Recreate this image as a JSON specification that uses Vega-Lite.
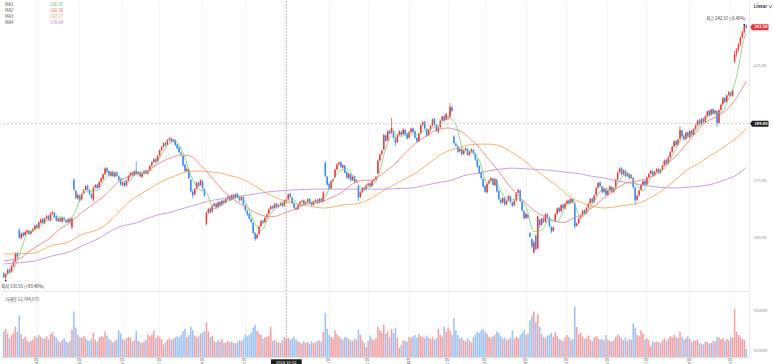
{
"$schema":"https://vega.github.io/schema/vega-lite/v6.json",
"padding":0,
"spacing":0,
"background":"white",
"config":{"view":{"stroke":null},"font":"Noto Sans CJK KR"},
"resolve":{"scale":{"x":"shared"}},
"datasets":{
"k":[
{"d":"2024-03-06","o":134.6,"h":135.3,"l":132.6,"c":133.0,"v":38},
{"d":"2024-03-07","o":132.9,"h":134.7,"l":131.55,"c":134.2,"v":42},
{"d":"2024-03-08","o":134.5,"h":136.8,"l":134.0,"c":136.0,"v":35},
{"d":"2024-03-11","o":136.3,"h":136.9,"l":134.6,"c":135.2,"v":28},
{"d":"2024-03-12","o":135.5,"h":138.4,"l":135.1,"c":137.8,"v":33},
{"d":"2024-03-13","o":137.9,"h":140.2,"l":137.2,"c":139.5,"v":36},
{"d":"2024-03-14","o":139.8,"h":143.8,"l":139.4,"c":143.2,"v":45},
{"d":"2024-03-15","o":143.5,"h":144.1,"l":141.2,"c":142.0,"v":38},
{"d":"2024-03-18","o":153.5,"h":154.2,"l":149.6,"c":150.2,"v":62},
{"d":"2024-03-19","o":150.0,"h":152.4,"l":149.5,"c":151.8,"v":34},
{"d":"2024-03-20","o":152.0,"h":152.7,"l":150.3,"c":150.9,"v":27},
{"d":"2024-03-21","o":151.3,"h":153.1,"l":150.8,"c":152.6,"v":30},
{"d":"2024-03-22","o":152.4,"h":153.9,"l":151.9,"c":153.2,"v":25},
{"d":"2024-03-25","o":153.0,"h":153.4,"l":151.2,"c":151.7,"v":22},
{"d":"2024-03-26","o":151.9,"h":153.4,"l":151.4,"c":152.9,"v":24},
{"d":"2024-03-27","o":153.1,"h":154.3,"l":152.5,"c":153.8,"v":26},
{"d":"2024-03-28","o":153.9,"h":155.8,"l":153.5,"c":155.2,"v":31},
{"d":"2024-04-01","o":155.5,"h":156.0,"l":154.1,"c":154.6,"v":29},
{"d":"2024-04-02","o":154.3,"h":157.2,"l":153.9,"c":156.8,"v":33},
{"d":"2024-04-03","o":156.6,"h":158.5,"l":156.2,"c":157.9,"v":30},
{"d":"2024-04-04","o":158.2,"h":158.8,"l":156.0,"c":156.5,"v":28},
{"d":"2024-04-05","o":156.4,"h":158.9,"l":156.0,"c":158.3,"v":27},
{"d":"2024-04-08","o":158.5,"h":160.1,"l":158.0,"c":159.4,"v":31},
{"d":"2024-04-09","o":159.6,"h":160.0,"l":157.3,"c":157.8,"v":26},
{"d":"2024-04-10","o":157.5,"h":161.0,"l":157.2,"c":160.6,"v":34},
{"d":"2024-04-11","o":160.8,"h":161.9,"l":159.9,"c":161.2,"v":37},
{"d":"2024-04-12","o":161.0,"h":161.4,"l":158.5,"c":159.0,"v":32},
{"d":"2024-04-15","o":159.4,"h":159.9,"l":157.1,"c":157.6,"v":29},
{"d":"2024-04-16","o":157.4,"h":158.9,"l":156.9,"c":158.4,"v":24},
{"d":"2024-04-17","o":158.6,"h":159.0,"l":156.8,"c":157.2,"v":22},
{"d":"2024-04-18","o":157.0,"h":159.4,"l":156.7,"c":158.9,"v":25},
{"d":"2024-04-19","o":158.6,"h":159.2,"l":157.4,"c":157.9,"v":28},
{"d":"2024-04-22","o":157.6,"h":158.1,"l":156.2,"c":156.8,"v":23},
{"d":"2024-04-23","o":156.9,"h":158.6,"l":156.5,"c":158.1,"v":21},
{"d":"2024-04-24","o":158.3,"h":158.7,"l":156.5,"c":157.0,"v":24},
{"d":"2024-04-25","o":154.5,"h":159.0,"l":153.9,"c":158.3,"v":41},
{"d":"2024-04-26","o":175.2,"h":176.0,"l":170.2,"c":171.0,"v":68},
{"d":"2024-04-29","o":170.4,"h":170.9,"l":166.8,"c":167.4,"v":44},
{"d":"2024-04-30","o":167.2,"h":169.4,"l":166.5,"c":168.6,"v":33},
{"d":"2024-05-01","o":168.2,"h":168.9,"l":165.6,"c":166.2,"v":30},
{"d":"2024-05-02","o":166.8,"h":169.6,"l":166.3,"c":169.0,"v":29},
{"d":"2024-05-03","o":169.5,"h":171.2,"l":169.0,"c":170.5,"v":31},
{"d":"2024-05-06","o":170.8,"h":172.9,"l":170.4,"c":172.4,"v":28},
{"d":"2024-05-07","o":172.6,"h":173.2,"l":170.5,"c":171.0,"v":25},
{"d":"2024-05-08","o":170.8,"h":171.3,"l":168.7,"c":169.2,"v":24},
{"d":"2024-05-09","o":169.0,"h":169.5,"l":166.9,"c":167.4,"v":27},
{"d":"2024-05-10","o":166.6,"h":172.3,"l":166.0,"c":171.8,"v":36},
{"d":"2024-05-13","o":172.0,"h":173.4,"l":171.4,"c":172.9,"v":26},
{"d":"2024-05-14","o":173.1,"h":173.5,"l":171.1,"c":171.6,"v":23},
{"d":"2024-05-15","o":172.0,"h":174.7,"l":171.6,"c":174.2,"v":29},
{"d":"2024-05-16","o":174.4,"h":176.3,"l":173.8,"c":175.8,"v":31},
{"d":"2024-05-17","o":175.6,"h":178.0,"l":175.2,"c":177.5,"v":30},
{"d":"2024-05-20","o":177.8,"h":180.6,"l":177.3,"c":180.1,"v":38},
{"d":"2024-05-21","o":180.3,"h":180.9,"l":178.2,"c":178.8,"v":32},
{"d":"2024-05-22","o":178.9,"h":179.3,"l":176.7,"c":177.2,"v":27},
{"d":"2024-05-23","o":177.0,"h":179.1,"l":176.6,"c":178.6,"v":25},
{"d":"2024-05-24","o":178.8,"h":179.2,"l":176.4,"c":176.9,"v":22},
{"d":"2024-05-28","o":176.7,"h":178.8,"l":176.3,"c":178.3,"v":24},
{"d":"2024-05-29","o":178.5,"h":178.9,"l":176.5,"c":177.0,"v":26},
{"d":"2024-05-30","o":176.8,"h":177.2,"l":174.6,"c":175.1,"v":40},
{"d":"2024-05-31","o":175.3,"h":175.8,"l":172.7,"c":173.2,"v":35},
{"d":"2024-06-03","o":173.0,"h":174.5,"l":172.4,"c":174.0,"v":27},
{"d":"2024-06-04","o":174.2,"h":174.6,"l":172.1,"c":172.6,"v":25},
{"d":"2024-06-05","o":172.8,"h":175.3,"l":172.4,"c":174.8,"v":28},
{"d":"2024-06-06","o":175.0,"h":177.4,"l":174.6,"c":176.9,"v":30},
{"d":"2024-06-07","o":177.1,"h":178.7,"l":176.6,"c":178.2,"v":29},
{"d":"2024-06-10","o":178.4,"h":178.9,"l":177.0,"c":177.5,"v":23},
{"d":"2024-06-11","o":177.3,"h":179.3,"l":177.0,"c":178.8,"v":25},
{"d":"2024-06-12","o":179.2,"h":183.2,"l":177.5,"c":177.9,"v":39},
{"d":"2024-06-13","o":177.7,"h":179.0,"l":177.2,"c":178.5,"v":24},
{"d":"2024-06-14","o":178.6,"h":179.0,"l":176.3,"c":176.8,"v":22},
{"d":"2024-06-17","o":176.6,"h":178.4,"l":176.2,"c":177.9,"v":21},
{"d":"2024-06-18","o":178.1,"h":179.5,"l":177.6,"c":179.0,"v":23},
{"d":"2024-06-20","o":179.2,"h":179.6,"l":177.6,"c":178.1,"v":26},
{"d":"2024-06-21","o":178.0,"h":179.4,"l":177.5,"c":178.9,"v":34},
{"d":"2024-06-24","o":179.3,"h":181.7,"l":178.9,"c":181.2,"v":31},
{"d":"2024-06-25","o":181.4,"h":183.3,"l":180.9,"c":182.8,"v":33},
{"d":"2024-06-26","o":183.0,"h":184.6,"l":182.5,"c":184.0,"v":40},
{"d":"2024-06-27","o":184.2,"h":184.7,"l":182.6,"c":183.1,"v":28},
{"d":"2024-06-28","o":183.4,"h":186.1,"l":183.0,"c":185.6,"v":32},
{"d":"2024-07-01","o":185.9,"h":188.4,"l":185.4,"c":187.9,"v":30},
{"d":"2024-07-02","o":188.1,"h":189.9,"l":187.6,"c":189.4,"v":27},
{"d":"2024-07-03","o":189.6,"h":191.5,"l":189.1,"c":191.0,"v":19},
{"d":"2024-07-05","o":191.2,"h":191.7,"l":189.7,"c":190.2,"v":22},
{"d":"2024-07-08","o":190.5,"h":192.9,"l":190.1,"c":192.4,"v":26},
{"d":"2024-07-09","o":192.6,"h":193.8,"l":192.1,"c":193.0,"v":28},
{"d":"2024-07-10","o":193.2,"h":193.6,"l":191.3,"c":191.8,"v":25},
{"d":"2024-07-11","o":192.0,"h":193.1,"l":191.5,"c":192.6,"v":27},
{"d":"2024-07-12","o":192.4,"h":192.8,"l":189.9,"c":190.4,"v":29},
{"d":"2024-07-15","o":190.6,"h":191.0,"l":188.4,"c":188.9,"v":31},
{"d":"2024-07-16","o":189.2,"h":189.6,"l":186.7,"c":187.2,"v":30},
{"d":"2024-07-17","o":187.0,"h":187.5,"l":185.8,"c":186.3,"v":33},
{"d":"2024-07-18","o":185.6,"h":186.0,"l":180.9,"c":181.5,"v":38},
{"d":"2024-07-19","o":181.8,"h":182.2,"l":178.6,"c":179.2,"v":42},
{"d":"2024-07-22","o":179.0,"h":180.6,"l":178.5,"c":179.8,"v":30},
{"d":"2024-07-23","o":179.6,"h":180.0,"l":175.5,"c":176.0,"v":33},
{"d":"2024-07-24","o":175.2,"h":175.8,"l":169.7,"c":170.2,"v":45},
{"d":"2024-07-25","o":170.0,"h":170.9,"l":167.2,"c":168.5,"v":40},
{"d":"2024-07-26","o":168.9,"h":171.8,"l":168.4,"c":171.2,"v":32},
{"d":"2024-07-29","o":171.5,"h":174.4,"l":171.0,"c":173.8,"v":29},
{"d":"2024-07-30","o":174.0,"h":174.5,"l":172.1,"c":172.6,"v":31},
{"d":"2024-07-31","o":173.0,"h":175.6,"l":172.6,"c":174.9,"v":35},
{"d":"2024-08-01","o":174.6,"h":175.1,"l":171.0,"c":171.5,"v":36},
{"d":"2024-08-02","o":171.2,"h":171.6,"l":167.9,"c":168.4,"v":39},
{"d":"2024-08-05","o":156.2,"h":161.6,"l":155.4,"c":160.8,"v":52},
{"d":"2024-08-06","o":161.0,"h":163.1,"l":160.4,"c":162.5,"v":38},
{"d":"2024-08-07","o":162.8,"h":163.3,"l":160.6,"c":161.1,"v":30},
{"d":"2024-08-08","o":161.5,"h":164.4,"l":161.0,"c":163.9,"v":31},
{"d":"2024-08-09","o":164.0,"h":165.3,"l":163.5,"c":164.8,"v":24},
{"d":"2024-08-12","o":164.9,"h":165.2,"l":162.7,"c":163.2,"v":22},
{"d":"2024-08-13","o":163.5,"h":165.9,"l":163.0,"c":165.4,"v":25},
{"d":"2024-08-14","o":165.6,"h":166.0,"l":163.6,"c":164.1,"v":23},
{"d":"2024-08-15","o":164.4,"h":166.5,"l":164.0,"c":166.0,"v":27},
{"d":"2024-08-16","o":166.2,"h":166.7,"l":164.7,"c":165.2,"v":21},
{"d":"2024-08-19","o":165.4,"h":167.3,"l":165.0,"c":166.8,"v":22},
{"d":"2024-08-20","o":167.0,"h":168.4,"l":166.5,"c":167.9,"v":24},
{"d":"2024-08-21","o":168.1,"h":168.5,"l":165.9,"c":166.4,"v":22},
{"d":"2024-08-22","o":166.6,"h":169.0,"l":166.2,"c":168.5,"v":23},
{"d":"2024-08-23","o":168.7,"h":169.1,"l":166.7,"c":167.2,"v":21},
{"d":"2024-08-26","o":167.4,"h":169.4,"l":167.0,"c":168.9,"v":20},
{"d":"2024-08-27","o":169.0,"h":169.5,"l":167.1,"c":167.6,"v":22},
{"d":"2024-08-28","o":167.8,"h":168.2,"l":165.8,"c":166.3,"v":25},
{"d":"2024-08-29","o":166.5,"h":168.3,"l":166.0,"c":167.8,"v":24},
{"d":"2024-08-30","o":167.6,"h":168.0,"l":164.1,"c":164.6,"v":28},
{"d":"2024-09-03","o":164.2,"h":164.7,"l":161.5,"c":162.0,"v":34},
{"d":"2024-09-04","o":161.8,"h":162.3,"l":159.6,"c":160.1,"v":31},
{"d":"2024-09-05","o":160.4,"h":160.9,"l":157.9,"c":158.4,"v":33},
{"d":"2024-09-06","o":158.2,"h":158.7,"l":156.4,"c":156.9,"v":36},
{"d":"2024-09-09","o":156.5,"h":157.0,"l":151.7,"c":152.2,"v":44},
{"d":"2024-09-10","o":152.0,"h":152.6,"l":148.7,"c":149.6,"v":48},
{"d":"2024-09-11","o":149.9,"h":152.0,"l":149.4,"c":151.4,"v":39},
{"d":"2024-09-12","o":151.8,"h":155.5,"l":151.3,"c":155.0,"v":35},
{"d":"2024-09-13","o":155.2,"h":157.8,"l":154.7,"c":157.3,"v":33},
{"d":"2024-09-16","o":157.5,"h":158.0,"l":156.1,"c":156.6,"v":27},
{"d":"2024-09-17","o":156.9,"h":159.3,"l":156.4,"c":158.8,"v":29},
{"d":"2024-09-18","o":159.0,"h":160.6,"l":158.5,"c":160.1,"v":30},
{"d":"2024-09-19","o":160.5,"h":162.9,"l":160.0,"c":162.4,"v":32},
{"d":"2024-09-20","o":162.6,"h":164.1,"l":162.1,"c":163.6,"v":45},
{"d":"2024-09-23","o":163.8,"h":164.2,"l":162.4,"c":162.9,"v":24},
{"d":"2024-09-24","o":163.1,"h":165.2,"l":162.7,"c":164.7,"v":26},
{"d":"2024-09-25","o":164.9,"h":165.3,"l":162.9,"c":163.4,"v":23},
{"d":"2024-09-26","o":163.6,"h":164.6,"l":163.1,"c":164.1,"v":22},
{"d":"2024-09-27","o":164.3,"h":165.5,"l":163.9,"c":165.0,"v":21},
{"d":"2024-09-30","o":165.2,"h":165.6,"l":163.3,"c":163.8,"v":25},
{"d":"2024-10-01","o":164.0,"h":166.7,"l":163.5,"c":166.2,"v":30},
{"d":"2024-10-02","o":166.0,"h":167.2,"l":165.4,"c":166.5,"v":27},
{"d":"2024-10-03","o":166.8,"h":169.4,"l":166.3,"c":168.9,"v":29},
{"d":"2024-10-04","o":169.1,"h":169.6,"l":167.3,"c":167.8,"v":26},
{"d":"2024-10-07","o":167.6,"h":168.0,"l":164.8,"c":165.3,"v":28},
{"d":"2024-10-08","o":165.1,"h":165.6,"l":162.6,"c":163.1,"v":30},
{"d":"2024-10-09","o":163.0,"h":163.5,"l":161.9,"c":162.4,"v":26},
{"d":"2024-10-10","o":162.6,"h":164.7,"l":162.2,"c":164.2,"v":23},
{"d":"2024-10-11","o":164.4,"h":166.0,"l":163.9,"c":165.5,"v":22},
{"d":"2024-10-14","o":165.7,"h":166.6,"l":165.2,"c":166.1,"v":20},
{"d":"2024-10-15","o":166.3,"h":166.8,"l":164.3,"c":164.8,"v":24},
{"d":"2024-10-16","o":165.0,"h":166.1,"l":164.5,"c":165.6,"v":21},
{"d":"2024-10-17","o":165.8,"h":167.2,"l":165.3,"c":166.7,"v":22},
{"d":"2024-10-18","o":166.9,"h":167.3,"l":164.5,"c":165.0,"v":20},
{"d":"2024-10-21","o":165.2,"h":165.6,"l":163.8,"c":164.3,"v":23},
{"d":"2024-10-22","o":164.5,"h":166.3,"l":164.0,"c":165.8,"v":21},
{"d":"2024-10-23","o":165.9,"h":166.9,"l":165.4,"c":166.4,"v":22},
{"d":"2024-10-24","o":166.6,"h":167.0,"l":164.7,"c":165.2,"v":24},
{"d":"2024-10-25","o":165.4,"h":167.4,"l":165.0,"c":166.9,"v":25},
{"d":"2024-10-28","o":167.1,"h":167.5,"l":165.2,"c":165.7,"v":23},
{"d":"2024-10-29","o":165.9,"h":170.3,"l":165.5,"c":169.8,"v":38},
{"d":"2024-10-30","o":182.5,"h":183.4,"l":176.3,"c":177.0,"v":66},
{"d":"2024-10-31","o":176.6,"h":177.0,"l":172.7,"c":173.2,"v":42},
{"d":"2024-11-01","o":173.5,"h":174.0,"l":170.9,"c":171.4,"v":33},
{"d":"2024-11-04","o":171.6,"h":175.1,"l":171.2,"c":174.6,"v":30},
{"d":"2024-11-05","o":174.8,"h":175.8,"l":174.2,"c":175.3,"v":27},
{"d":"2024-11-06","o":176.5,"h":180.1,"l":176.0,"c":179.6,"v":40},
{"d":"2024-11-07","o":179.8,"h":182.4,"l":179.3,"c":181.9,"v":34},
{"d":"2024-11-08","o":182.0,"h":183.2,"l":181.5,"c":182.6,"v":31},
{"d":"2024-11-11","o":182.8,"h":183.3,"l":180.3,"c":180.8,"v":28},
{"d":"2024-11-12","o":180.6,"h":182.0,"l":180.1,"c":181.5,"v":26},
{"d":"2024-11-13","o":181.3,"h":181.7,"l":177.9,"c":178.4,"v":30},
{"d":"2024-11-14","o":178.6,"h":179.0,"l":175.7,"c":176.2,"v":29},
{"d":"2024-11-15","o":176.0,"h":178.3,"l":175.6,"c":177.8,"v":27},
{"d":"2024-11-18","o":177.6,"h":178.0,"l":174.5,"c":175.0,"v":25},
{"d":"2024-11-19","o":175.2,"h":177.0,"l":174.7,"c":176.5,"v":24},
{"d":"2024-11-20","o":176.7,"h":177.1,"l":173.7,"c":174.2,"v":27},
{"d":"2024-11-21","o":174.4,"h":175.5,"l":173.9,"c":175.0,"v":26},
{"d":"2024-11-22","o":172.4,"h":172.9,"l":166.0,"c":167.5,"v":41},
{"d":"2024-11-25","o":167.8,"h":170.3,"l":167.3,"c":169.8,"v":33},
{"d":"2024-11-26","o":170.0,"h":172.1,"l":169.5,"c":171.6,"v":25},
{"d":"2024-11-27","o":171.8,"h":172.2,"l":170.4,"c":170.9,"v":21},
{"d":"2024-11-29","o":171.1,"h":173.3,"l":170.7,"c":172.8,"v":15},
{"d":"2024-12-02","o":173.0,"h":174.0,"l":172.5,"c":173.5,"v":24},
{"d":"2024-12-03","o":173.7,"h":174.1,"l":171.9,"c":172.4,"v":32},
{"d":"2024-12-04","o":172.6,"h":175.1,"l":172.2,"c":174.6,"v":27},
{"d":"2024-12-05","o":174.8,"h":175.8,"l":174.3,"c":175.3,"v":25},
{"d":"2024-12-06","o":175.5,"h":176.9,"l":175.0,"c":176.4,"v":28},
{"d":"2024-12-09","o":178.0,"h":184.0,"l":177.6,"c":183.5,"v":45},
{"d":"2024-12-10","o":183.7,"h":186.7,"l":183.2,"c":186.2,"v":40},
{"d":"2024-12-11","o":186.4,"h":188.3,"l":185.9,"c":187.8,"v":36},
{"d":"2024-12-12","o":188.5,"h":195.1,"l":188.0,"c":194.6,"v":48},
{"d":"2024-12-13","o":194.4,"h":195.0,"l":191.6,"c":192.1,"v":35},
{"d":"2024-12-16","o":192.4,"h":196.7,"l":192.0,"c":196.2,"v":38},
{"d":"2024-12-17","o":196.4,"h":196.9,"l":194.8,"c":195.3,"v":30},
{"d":"2024-12-18","o":195.6,"h":202.1,"l":195.2,"c":197.8,"v":42},
{"d":"2024-12-19","o":196.2,"h":196.8,"l":193.0,"c":193.5,"v":36},
{"d":"2024-12-20","o":193.2,"h":194.0,"l":189.9,"c":191.2,"v":44},
{"d":"2024-12-23","o":191.6,"h":195.1,"l":191.2,"c":194.6,"v":29},
{"d":"2024-12-24","o":194.8,"h":196.7,"l":194.4,"c":196.2,"v":14},
{"d":"2024-12-26","o":196.0,"h":196.5,"l":194.3,"c":194.8,"v":18},
{"d":"2024-12-27","o":195.0,"h":197.6,"l":194.6,"c":197.1,"v":25},
{"d":"2024-12-30","o":196.8,"h":197.2,"l":194.5,"c":195.0,"v":24},
{"d":"2024-12-31","o":195.2,"h":195.7,"l":192.7,"c":193.2,"v":23},
{"d":"2025-01-02","o":193.6,"h":196.4,"l":193.1,"c":195.9,"v":30},
{"d":"2025-01-03","o":196.1,"h":197.9,"l":195.6,"c":197.4,"v":28},
{"d":"2025-01-06","o":197.6,"h":198.0,"l":195.5,"c":196.0,"v":31},
{"d":"2025-01-07","o":196.2,"h":196.7,"l":193.1,"c":193.6,"v":33},
{"d":"2025-01-08","o":193.4,"h":193.9,"l":191.3,"c":191.8,"v":29},
{"d":"2025-01-10","o":192.0,"h":195.7,"l":191.6,"c":195.2,"v":34},
{"d":"2025-01-13","o":195.4,"h":199.4,"l":195.0,"c":198.9,"v":31},
{"d":"2025-01-14","o":199.1,"h":200.7,"l":198.6,"c":200.2,"v":30},
{"d":"2025-01-15","o":200.4,"h":200.9,"l":197.0,"c":197.5,"v":28},
{"d":"2025-01-16","o":197.3,"h":197.8,"l":193.8,"c":194.3,"v":32},
{"d":"2025-01-17","o":194.6,"h":197.3,"l":194.2,"c":196.8,"v":29},
{"d":"2025-01-21","o":197.0,"h":199.1,"l":196.5,"c":198.6,"v":27},
{"d":"2025-01-22","o":198.8,"h":201.9,"l":198.3,"c":201.4,"v":30},
{"d":"2025-01-23","o":201.6,"h":202.0,"l":198.7,"c":199.2,"v":26},
{"d":"2025-01-24","o":199.0,"h":199.5,"l":196.0,"c":196.5,"v":28},
{"d":"2025-01-27","o":196.2,"h":198.4,"l":195.1,"c":197.9,"v":42},
{"d":"2025-01-28","o":198.1,"h":201.3,"l":197.6,"c":200.8,"v":33},
{"d":"2025-01-29","o":201.0,"h":203.1,"l":200.5,"c":202.6,"v":30},
{"d":"2025-01-30","o":202.8,"h":203.6,"l":200.5,"c":201.0,"v":45},
{"d":"2025-01-31","o":201.3,"h":204.3,"l":200.9,"c":203.8,"v":38},
{"d":"2025-02-03","o":202.0,"h":203.0,"l":201.2,"c":202.4,"v":44},
{"d":"2025-02-04","o":202.6,"h":208.6,"l":202.2,"c":206.8,"v":40},
{"d":"2025-02-05","o":206.6,"h":207.4,"l":204.7,"c":205.2,"v":33},
{"d":"2025-02-06","o":194.0,"h":194.6,"l":190.6,"c":191.2,"v":58},
{"d":"2025-02-07","o":191.0,"h":191.5,"l":189.5,"c":190.0,"v":40},
{"d":"2025-02-10","o":189.8,"h":190.3,"l":186.9,"c":187.4,"v":33},
{"d":"2025-02-11","o":187.6,"h":189.1,"l":187.1,"c":188.6,"v":27},
{"d":"2025-02-12","o":188.4,"h":188.9,"l":185.8,"c":186.3,"v":29},
{"d":"2025-02-13","o":186.5,"h":188.4,"l":186.0,"c":187.9,"v":25},
{"d":"2025-02-14","o":188.1,"h":189.3,"l":187.6,"c":188.8,"v":23},
{"d":"2025-02-18","o":188.6,"h":189.1,"l":185.5,"c":186.0,"v":28},
{"d":"2025-02-19","o":186.2,"h":187.7,"l":185.7,"c":187.2,"v":24},
{"d":"2025-02-20","o":187.4,"h":188.9,"l":186.9,"c":188.4,"v":22},
{"d":"2025-02-21","o":188.2,"h":188.6,"l":186.2,"c":186.7,"v":30},
{"d":"2025-02-24","o":186.5,"h":187.0,"l":183.6,"c":184.1,"v":34},
{"d":"2025-02-25","o":183.9,"h":184.4,"l":180.5,"c":181.0,"v":38},
{"d":"2025-02-26","o":181.2,"h":181.7,"l":177.7,"c":178.2,"v":36},
{"d":"2025-02-27","o":178.4,"h":178.9,"l":175.5,"c":176.0,"v":40},
{"d":"2025-02-28","o":175.6,"h":176.1,"l":171.8,"c":172.3,"v":42},
{"d":"2025-03-03","o":172.5,"h":173.0,"l":169.6,"c":170.1,"v":37},
{"d":"2025-03-04","o":169.8,"h":173.9,"l":169.3,"c":173.4,"v":35},
{"d":"2025-03-05","o":173.6,"h":175.3,"l":173.1,"c":174.8,"v":30},
{"d":"2025-03-06","o":175.0,"h":176.4,"l":174.5,"c":175.9,"v":28},
{"d":"2025-03-07","o":175.7,"h":176.1,"l":172.6,"c":173.1,"v":31},
{"d":"2025-03-10","o":172.9,"h":176.0,"l":172.4,"c":175.5,"v":33},
{"d":"2025-03-11","o":175.2,"h":175.7,"l":169.7,"c":170.2,"v":38},
{"d":"2025-03-12","o":170.4,"h":170.9,"l":166.3,"c":166.8,"v":36},
{"d":"2025-03-13","o":166.6,"h":167.1,"l":164.8,"c":165.3,"v":31},
{"d":"2025-03-14","o":165.5,"h":167.9,"l":165.0,"c":167.4,"v":27},
{"d":"2025-03-17","o":167.2,"h":167.7,"l":164.0,"c":164.5,"v":29},
{"d":"2025-03-18","o":164.7,"h":166.6,"l":164.2,"c":166.1,"v":25},
{"d":"2025-03-19","o":166.3,"h":168.7,"l":165.8,"c":168.2,"v":26},
{"d":"2025-03-20","o":168.0,"h":168.5,"l":165.1,"c":165.6,"v":28},
{"d":"2025-03-21","o":165.4,"h":165.9,"l":163.4,"c":163.9,"v":40},
{"d":"2025-03-24","o":164.2,"h":166.5,"l":163.8,"c":166.0,"v":27},
{"d":"2025-03-25","o":166.2,"h":170.0,"l":165.8,"c":169.5,"v":30},
{"d":"2025-03-26","o":169.7,"h":171.4,"l":169.2,"c":170.8,"v":28},
{"d":"2025-03-27","o":170.6,"h":171.1,"l":165.5,"c":166.0,"v":33},
{"d":"2025-03-28","o":165.8,"h":166.3,"l":161.4,"c":161.9,"v":36},
{"d":"2025-03-31","o":161.6,"h":162.1,"l":158.1,"c":158.6,"v":40},
{"d":"2025-04-01","o":158.8,"h":160.9,"l":158.3,"c":160.4,"v":33},
{"d":"2025-04-02","o":160.1,"h":160.6,"l":158.4,"c":158.9,"v":35},
{"d":"2025-04-03","o":152.0,"h":152.6,"l":150.1,"c":150.6,"v":55},
{"d":"2025-04-04","o":149.5,"h":150.0,"l":145.7,"c":146.2,"v":62},
{"d":"2025-04-07","o":143.8,"h":148.9,"l":143.0,"c":148.0,"v":68},
{"d":"2025-04-08","o":151.0,"h":151.6,"l":144.6,"c":145.2,"v":52},
{"d":"2025-04-09","o":145.5,"h":159.8,"l":145.0,"c":159.3,"v":64},
{"d":"2025-04-10","o":157.8,"h":158.3,"l":154.2,"c":155.6,"v":45},
{"d":"2025-04-11","o":155.8,"h":158.7,"l":155.3,"c":158.2,"v":34},
{"d":"2025-04-14","o":158.6,"h":159.0,"l":156.4,"c":156.9,"v":30},
{"d":"2025-04-15","o":157.1,"h":160.9,"l":156.6,"c":160.4,"v":28},
{"d":"2025-04-16","o":160.2,"h":160.6,"l":158.6,"c":159.1,"v":32},
{"d":"2025-04-17","o":158.8,"h":159.3,"l":154.7,"c":155.2,"v":33},
{"d":"2025-04-21","o":154.8,"h":155.3,"l":152.0,"c":152.8,"v":36},
{"d":"2025-04-22","o":153.2,"h":155.1,"l":152.7,"c":154.6,"v":30},
{"d":"2025-04-23","o":157.5,"h":160.8,"l":157.0,"c":160.3,"v":37},
{"d":"2025-04-24","o":160.5,"h":163.3,"l":160.0,"c":162.8,"v":31},
{"d":"2025-04-25","o":163.0,"h":163.5,"l":161.0,"c":161.5,"v":27},
{"d":"2025-04-28","o":161.7,"h":164.7,"l":161.2,"c":164.2,"v":26},
{"d":"2025-04-29","o":164.4,"h":164.9,"l":162.5,"c":163.0,"v":24},
{"d":"2025-04-30","o":162.8,"h":165.3,"l":162.3,"c":164.8,"v":29},
{"d":"2025-05-01","o":165.0,"h":166.6,"l":164.5,"c":166.1,"v":33},
{"d":"2025-05-02","o":166.3,"h":166.8,"l":164.5,"c":165.0,"v":30},
{"d":"2025-05-05","o":165.2,"h":167.4,"l":164.7,"c":166.9,"v":25},
{"d":"2025-05-06","o":166.7,"h":167.2,"l":165.1,"c":165.6,"v":27},
{"d":"2025-05-07","o":165.0,"h":165.8,"l":153.9,"c":155.0,"v":75},
{"d":"2025-05-08","o":155.4,"h":156.7,"l":154.9,"c":156.2,"v":45},
{"d":"2025-05-09","o":156.4,"h":158.9,"l":155.9,"c":158.4,"v":34},
{"d":"2025-05-12","o":158.6,"h":160.2,"l":158.1,"c":159.7,"v":36},
{"d":"2025-05-13","o":159.9,"h":162.3,"l":159.4,"c":161.8,"v":30},
{"d":"2025-05-14","o":162.0,"h":162.5,"l":160.0,"c":160.5,"v":27},
{"d":"2025-05-15","o":160.7,"h":163.4,"l":160.2,"c":162.9,"v":28},
{"d":"2025-05-16","o":163.1,"h":165.3,"l":162.6,"c":164.8,"v":32},
{"d":"2025-05-19","o":165.0,"h":167.4,"l":164.5,"c":166.9,"v":26},
{"d":"2025-05-20","o":167.1,"h":167.6,"l":165.0,"c":165.5,"v":24},
{"d":"2025-05-21","o":165.7,"h":168.9,"l":165.2,"c":168.4,"v":29},
{"d":"2025-05-22","o":168.6,"h":172.1,"l":168.1,"c":171.6,"v":31},
{"d":"2025-05-23","o":171.8,"h":174.4,"l":171.3,"c":173.9,"v":28},
{"d":"2025-05-27","o":174.1,"h":174.6,"l":172.0,"c":172.5,"v":26},
{"d":"2025-05-28","o":172.3,"h":172.8,"l":169.3,"c":169.8,"v":27},
{"d":"2025-05-29","o":170.0,"h":171.7,"l":169.5,"c":171.2,"v":25},
{"d":"2025-05-30","o":171.0,"h":171.5,"l":168.1,"c":168.6,"v":33},
{"d":"2025-06-02","o":168.8,"h":170.9,"l":168.3,"c":170.4,"v":26},
{"d":"2025-06-03","o":170.6,"h":172.8,"l":170.1,"c":172.3,"v":24},
{"d":"2025-06-04","o":172.1,"h":172.6,"l":169.4,"c":169.9,"v":23},
{"d":"2025-06-05","o":170.1,"h":172.0,"l":169.6,"c":171.5,"v":25},
{"d":"2025-06-06","o":171.8,"h":175.7,"l":171.3,"c":175.2,"v":30},
{"d":"2025-06-09","o":175.4,"h":178.9,"l":174.9,"c":178.4,"v":33},
{"d":"2025-06-10","o":178.6,"h":180.6,"l":178.1,"c":180.1,"v":31},
{"d":"2025-06-11","o":180.3,"h":180.8,"l":177.1,"c":177.6,"v":28},
{"d":"2025-06-12","o":177.8,"h":179.8,"l":177.3,"c":179.3,"v":25},
{"d":"2025-06-13","o":179.1,"h":179.6,"l":176.3,"c":176.8,"v":29},
{"d":"2025-06-16","o":177.0,"h":178.4,"l":176.5,"c":177.9,"v":24},
{"d":"2025-06-17","o":177.7,"h":178.2,"l":175.4,"c":175.9,"v":27},
{"d":"2025-06-18","o":176.1,"h":177.7,"l":175.6,"c":177.2,"v":26},
{"d":"2025-06-20","o":176.0,"h":176.5,"l":171.5,"c":172.0,"v":50},
{"d":"2025-06-23","o":171.8,"h":172.3,"l":164.2,"c":166.4,"v":44},
{"d":"2025-06-24","o":166.6,"h":168.8,"l":166.1,"c":168.3,"v":33},
{"d":"2025-06-25","o":168.5,"h":171.1,"l":168.0,"c":170.6,"v":31},
{"d":"2025-06-26","o":170.8,"h":173.4,"l":170.3,"c":172.9,"v":40},
{"d":"2025-06-27","o":173.1,"h":175.0,"l":172.6,"c":174.5,"v":35},
{"d":"2025-06-30","o":174.7,"h":175.2,"l":172.6,"c":173.1,"v":26},
{"d":"2025-07-01","o":173.3,"h":176.7,"l":172.8,"c":176.2,"v":28},
{"d":"2025-07-02","o":176.4,"h":178.3,"l":175.9,"c":177.8,"v":25},
{"d":"2025-07-03","o":178.0,"h":179.6,"l":177.5,"c":179.1,"v":17},
{"d":"2025-07-07","o":178.9,"h":179.4,"l":176.5,"c":177.0,"v":24},
{"d":"2025-07-08","o":177.2,"h":179.1,"l":176.7,"c":178.6,"v":22},
{"d":"2025-07-09","o":178.8,"h":180.3,"l":178.3,"c":179.8,"v":23},
{"d":"2025-07-10","o":180.0,"h":180.5,"l":177.7,"c":178.2,"v":22},
{"d":"2025-07-11","o":178.4,"h":180.0,"l":177.9,"c":179.5,"v":21},
{"d":"2025-07-14","o":179.7,"h":181.9,"l":179.2,"c":181.4,"v":25},
{"d":"2025-07-15","o":181.6,"h":184.1,"l":181.1,"c":183.6,"v":28},
{"d":"2025-07-16","o":183.8,"h":184.3,"l":181.7,"c":182.2,"v":24},
{"d":"2025-07-17","o":182.4,"h":185.4,"l":181.9,"c":184.9,"v":27},
{"d":"2025-07-18","o":185.1,"h":187.7,"l":184.6,"c":187.2,"v":31},
{"d":"2025-07-21","o":187.4,"h":190.0,"l":186.9,"c":189.5,"v":29},
{"d":"2025-07-22","o":189.7,"h":192.3,"l":189.2,"c":191.8,"v":33},
{"d":"2025-07-23","o":192.0,"h":192.5,"l":189.8,"c":190.3,"v":30},
{"d":"2025-07-24","o":190.5,"h":193.1,"l":190.0,"c":192.6,"v":28},
{"d":"2025-07-25","o":193.0,"h":198.5,"l":192.5,"c":196.8,"v":38},
{"d":"2025-07-28","o":196.6,"h":197.1,"l":193.6,"c":194.1,"v":30},
{"d":"2025-07-29","o":194.3,"h":194.8,"l":192.3,"c":192.8,"v":26},
{"d":"2025-07-30","o":193.0,"h":196.1,"l":192.5,"c":195.6,"v":28},
{"d":"2025-07-31","o":195.8,"h":196.3,"l":193.4,"c":193.9,"v":31},
{"d":"2025-08-01","o":193.7,"h":196.9,"l":193.2,"c":196.4,"v":27},
{"d":"2025-08-04","o":196.6,"h":197.1,"l":194.2,"c":194.7,"v":22},
{"d":"2025-08-05","o":194.9,"h":197.7,"l":194.4,"c":197.2,"v":25},
{"d":"2025-08-06","o":197.4,"h":199.3,"l":196.9,"c":198.8,"v":24},
{"d":"2025-08-07","o":199.0,"h":201.4,"l":198.5,"c":200.9,"v":26},
{"d":"2025-08-08","o":201.1,"h":201.6,"l":198.9,"c":199.4,"v":21},
{"d":"2025-08-11","o":199.6,"h":202.1,"l":199.1,"c":201.6,"v":20},
{"d":"2025-08-12","o":201.8,"h":202.3,"l":199.7,"c":200.2,"v":19},
{"d":"2025-08-13","o":200.4,"h":203.3,"l":199.9,"c":202.8,"v":23},
{"d":"2025-08-14","o":203.0,"h":205.4,"l":202.5,"c":204.9,"v":22},
{"d":"2025-08-15","o":205.1,"h":205.6,"l":202.8,"c":203.3,"v":20},
{"d":"2025-08-18","o":203.5,"h":206.1,"l":203.0,"c":205.6,"v":21},
{"d":"2025-08-19","o":205.8,"h":206.3,"l":203.4,"c":203.9,"v":24},
{"d":"2025-08-20","o":204.1,"h":205.7,"l":203.6,"c":205.2,"v":23},
{"d":"2025-08-21","o":205.0,"h":205.5,"l":198.2,"c":199.8,"v":30},
{"d":"2025-08-22","o":200.0,"h":205.9,"l":199.5,"c":205.4,"v":29},
{"d":"2025-08-25","o":205.6,"h":208.3,"l":205.1,"c":207.8,"v":26},
{"d":"2025-08-26","o":208.0,"h":211.1,"l":207.5,"c":210.6,"v":28},
{"d":"2025-08-27","o":210.8,"h":211.3,"l":208.6,"c":209.1,"v":24},
{"d":"2025-08-28","o":209.3,"h":212.3,"l":208.8,"c":211.8,"v":27},
{"d":"2025-08-29","o":212.0,"h":213.7,"l":211.5,"c":213.2,"v":25},
{"d":"2025-09-02","o":213.0,"h":213.5,"l":211.1,"c":211.6,"v":30},
{"d":"2025-09-03","o":211.8,"h":214.4,"l":211.3,"c":213.9,"v":29},
{"d":"2025-09-04","o":226.5,"h":231.2,"l":225.8,"c":229.8,"v":72},
{"d":"2025-09-05","o":230.0,"h":232.4,"l":228.6,"c":231.5,"v":38},
{"d":"2025-09-08","o":231.7,"h":234.6,"l":230.9,"c":233.8,"v":33},
{"d":"2025-09-09","o":234.0,"h":237.5,"l":233.2,"c":236.9,"v":30},
{"d":"2025-09-10","o":237.1,"h":239.9,"l":236.4,"c":239.2,"v":27},
{"d":"2025-09-11","o":239.4,"h":242.57,"l":238.7,"c":242.1,"v":26},
{"d":"2025-09-12","o":242.3,"h":242.5,"l":240.6,"c":241.38,"v":12.74}
],
"ma":[
{"d":"2024-03-06","m1":134.5,"m2":140.0,"m3":143.0,"m4":138.7},
{"d":"2024-03-12","m1":135.2,"m2":140.5,"m3":143.1,"m4":139.0},
{"d":"2024-03-18","m1":142.5,"m2":141.0,"m3":143.2,"m4":139.2},
{"d":"2024-03-22","m1":151.7,"m2":143.5,"m3":143.3,"m4":139.6},
{"d":"2024-03-28","m1":153.4,"m2":145.8,"m3":143.5,"m4":140.0},
{"d":"2024-04-04","m1":156.2,"m2":148.0,"m3":145.0,"m4":141.0},
{"d":"2024-04-10","m1":158.5,"m2":150.0,"m3":146.5,"m4":142.0},
{"d":"2024-04-16","m1":159.4,"m2":153.5,"m3":147.3,"m4":142.8},
{"d":"2024-04-22","m1":157.8,"m2":155.5,"m3":147.8,"m4":143.5},
{"d":"2024-04-26","m1":160.2,"m2":158.0,"m3":149.5,"m4":144.8},
{"d":"2024-05-02","m1":168.4,"m2":161.0,"m3":151.5,"m4":146.5},
{"d":"2024-05-08","m1":170.4,"m2":163.5,"m3":152.5,"m4":148.0},
{"d":"2024-05-14","m1":170.6,"m2":166.0,"m3":153.5,"m4":149.5},
{"d":"2024-05-20","m1":175.8,"m2":168.5,"m3":155.5,"m4":151.5},
{"d":"2024-05-24","m1":178.3,"m2":172.0,"m3":158.5,"m4":153.5},
{"d":"2024-05-31","m1":176.1,"m2":175.0,"m3":162.0,"m4":155.0},
{"d":"2024-06-06","m1":174.3,"m2":176.5,"m3":165.5,"m4":155.8},
{"d":"2024-06-12","m1":177.9,"m2":177.5,"m3":167.8,"m4":156.5},
{"d":"2024-06-18","m1":178.0,"m2":178.5,"m3":170.0,"m4":158.0},
{"d":"2024-06-25","m1":180.0,"m2":180.5,"m3":172.0,"m4":159.2},
{"d":"2024-07-01","m1":184.7,"m2":182.5,"m3":174.0,"m4":160.2},
{"d":"2024-07-08","m1":190.2,"m2":184.2,"m3":175.6,"m4":160.8},
{"d":"2024-07-12","m1":192.0,"m2":185.5,"m3":177.0,"m4":161.8},
{"d":"2024-07-18","m1":186.9,"m2":186.0,"m3":178.2,"m4":162.8},
{"d":"2024-07-24","m1":177.3,"m2":185.5,"m3":179.0,"m4":163.8},
{"d":"2024-07-30","m1":171.3,"m2":182.5,"m3":179.0,"m4":164.8},
{"d":"2024-08-05","m1":169.6,"m2":179.0,"m3":178.8,"m4":165.8},
{"d":"2024-08-09","m1":162.6,"m2":175.0,"m3":178.5,"m4":166.5},
{"d":"2024-08-15","m1":164.7,"m2":171.0,"m3":178.0,"m4":167.0},
{"d":"2024-08-21","m1":166.5,"m2":168.0,"m3":177.0,"m4":167.5},
{"d":"2024-08-27","m1":167.7,"m2":165.5,"m3":176.3,"m4":168.0},
{"d":"2024-09-03","m1":165.7,"m2":163.5,"m3":175.0,"m4":168.5},
{"d":"2024-09-09","m1":157.9,"m2":161.5,"m3":173.0,"m4":169.0},
{"d":"2024-09-13","m1":153.1,"m2":160.0,"m3":171.0,"m4":169.5},
{"d":"2024-09-19","m1":159.0,"m2":159.2,"m3":169.0,"m4":170.0},
{"d":"2024-09-25","m1":163.4,"m2":159.5,"m3":167.5,"m4":170.3},
{"d":"2024-10-01","m1":164.5,"m2":160.8,"m3":166.0,"m4":170.6},
{"d":"2024-10-07","m1":166.9,"m2":162.0,"m3":165.0,"m4":170.8},
{"d":"2024-10-11","m1":164.1,"m2":163.5,"m3":164.5,"m4":171.0},
{"d":"2024-10-17","m1":165.7,"m2":165.0,"m3":164.0,"m4":171.1},
{"d":"2024-10-23","m1":165.6,"m2":165.5,"m3":163.3,"m4":171.2},
{"d":"2024-10-29","m1":166.8,"m2":166.0,"m3":163.0,"m4":171.2},
{"d":"2024-11-04","m1":173.2,"m2":167.5,"m3":163.3,"m4":171.2},
{"d":"2024-11-08","m1":178.8,"m2":169.0,"m3":164.0,"m4":171.2},
{"d":"2024-11-14","m1":179.9,"m2":171.5,"m3":164.5,"m4":171.2},
{"d":"2024-11-20","m1":175.9,"m2":174.0,"m3":164.7,"m4":171.2},
{"d":"2024-11-26","m1":171.6,"m2":175.0,"m3":165.5,"m4":171.2},
{"d":"2024-12-03","m1":172.2,"m2":175.0,"m3":167.0,"m4":171.2},
{"d":"2024-12-09","m1":176.4,"m2":176.5,"m3":169.0,"m4":171.2},
{"d":"2024-12-13","m1":188.8,"m2":179.0,"m3":171.2,"m4":171.2},
{"d":"2024-12-19","m1":195.0,"m2":181.5,"m3":173.0,"m4":171.3},
{"d":"2024-12-26","m1":194.1,"m2":185.0,"m3":174.8,"m4":171.5},
{"d":"2025-01-02","m1":195.2,"m2":188.5,"m3":176.5,"m4":171.6},
{"d":"2025-01-08","m1":194.9,"m2":191.5,"m3":178.5,"m4":172.0},
{"d":"2025-01-15","m1":196.7,"m2":193.8,"m3":181.0,"m4":172.8},
{"d":"2025-01-22","m1":197.7,"m2":196.0,"m3":183.5,"m4":173.5},
{"d":"2025-01-28","m1":199.2,"m2":197.3,"m3":186.0,"m4":174.2},
{"d":"2025-02-03","m1":202.1,"m2":197.7,"m3":187.7,"m4":174.7},
{"d":"2025-02-07","m1":199.1,"m2":197.0,"m3":188.8,"m4":175.8},
{"d":"2025-02-13","m1":188.0,"m2":195.5,"m3":189.8,"m4":177.0},
{"d":"2025-02-20","m1":187.7,"m2":192.5,"m3":190.5,"m4":177.7},
{"d":"2025-02-26","m1":183.7,"m2":189.3,"m3":190.7,"m4":178.2},
{"d":"2025-03-04","m1":174.0,"m2":185.0,"m3":190.7,"m4":179.0},
{"d":"2025-03-10","m1":174.5,"m2":181.0,"m3":190.5,"m4":179.6},
{"d":"2025-03-14","m1":169.0,"m2":176.5,"m3":189.5,"m4":180.0},
{"d":"2025-03-20","m1":166.4,"m2":172.0,"m3":187.5,"m4":180.3},
{"d":"2025-03-26","m1":167.2,"m2":168.5,"m3":185.5,"m4":180.2},
{"d":"2025-04-01","m1":163.5,"m2":165.0,"m3":183.0,"m4":180.0},
{"d":"2025-04-07","m1":152.8,"m2":162.0,"m3":180.0,"m4":179.8},
{"d":"2025-04-11","m1":153.3,"m2":160.0,"m3":177.5,"m4":179.6},
{"d":"2025-04-17","m1":158.0,"m2":158.0,"m3":175.0,"m4":179.4},
{"d":"2025-04-24","m1":157.1,"m2":157.0,"m3":172.5,"m4":179.0},
{"d":"2025-04-30","m1":163.3,"m2":156.8,"m3":169.5,"m4":178.6},
{"d":"2025-05-06","m1":165.7,"m2":158.5,"m3":167.0,"m4":178.2},
{"d":"2025-05-12","m1":159.0,"m2":159.8,"m3":165.5,"m4":177.8},
{"d":"2025-05-16","m1":161.9,"m2":162.0,"m3":164.3,"m4":177.0},
{"d":"2025-05-22","m1":167.4,"m2":164.5,"m3":163.5,"m4":176.5},
{"d":"2025-05-29","m1":171.8,"m2":167.3,"m3":163.0,"m4":176.0},
{"d":"2025-06-04","m1":170.5,"m2":169.8,"m3":163.3,"m4":175.3},
{"d":"2025-06-10","m1":175.0,"m2":172.3,"m3":163.8,"m4":174.6},
{"d":"2025-06-16","m1":178.3,"m2":174.0,"m3":164.3,"m4":174.0},
{"d":"2025-06-23","m1":173.9,"m2":174.5,"m3":164.8,"m4":173.5},
{"d":"2025-06-27","m1":170.5,"m2":175.3,"m3":165.8,"m4":173.0},
{"d":"2025-07-03","m1":176.1,"m2":176.5,"m3":167.5,"m4":172.5},
{"d":"2025-07-10","m1":178.5,"m2":179.0,"m3":169.5,"m4":172.0},
{"d":"2025-07-16","m1":181.0,"m2":182.0,"m3":172.0,"m4":171.8},
{"d":"2025-07-22","m1":187.1,"m2":184.8,"m3":174.8,"m4":171.7},
{"d":"2025-07-28","m1":193.1,"m2":188.5,"m3":177.7,"m4":171.8},
{"d":"2025-08-01","m1":194.6,"m2":192.5,"m3":180.3,"m4":172.1},
{"d":"2025-08-07","m1":197.6,"m2":196.5,"m3":182.0,"m4":172.3},
{"d":"2025-08-13","m1":201.0,"m2":200.0,"m3":184.3,"m4":172.8},
{"d":"2025-08-19","m1":204.1,"m2":202.0,"m3":186.5,"m4":173.5},
{"d":"2025-08-25","m1":204.4,"m2":203.7,"m3":188.5,"m4":174.5},
{"d":"2025-08-29","m1":210.5,"m2":206.5,"m3":191.0,"m4":175.8},
{"d":"2025-09-05","m1":220.0,"m2":210.8,"m3":193.3,"m4":177.3},
{"d":"2025-09-11","m1":236.7,"m2":216.5,"m3":196.5,"m4":179.8},
{"d":"2025-09-12","m1":238.7,"m2":218.0,"m3":197.5,"m4":180.6}
]
},
"vconcat":[
{
"width":748,"height":290,
"layer":[
{"data":{"name":"k"},
 "mark":{"type":"rule","strokeWidth":0.7},
 "encoding":{
  "x":{"field":"d","type":"ordinal","title":null,"scale":{"paddingInner":0,"paddingOuter":0.9},
       "axis":{"values":["2024-04-01","2024-05-01","2024-06-03","2024-07-01","2024-08-01","2024-09-03","2024-10-01","2024-11-01","2024-12-02","2025-01-02","2025-02-03","2025-03-03","2025-04-01","2025-05-01","2025-06-02","2025-07-01","2025-08-01","2025-09-02"],"labels":false,"ticks":false,"grid":true,"gridColor":"#f1f1f1","gridWidth":0.7,"domainColor":"#e2e2e2","domainWidth":0.8,"title":null,"minExtent":0,"maxExtent":0}},
  "y":{"field":"l","type":"quantitative","title":null,"scale":{"domain":[127,252.8],"nice":false,"zero":false},
       "axis":{"orient":"right","values":[150,175,200,225],"format":".2f","labelFontSize":4.2,"labelColor":"#8a8a8a","ticks":false,"grid":false,"domainColor":"#e6e6e6","domainWidth":0.8,"labelPadding":4,"minExtent":25,"maxExtent":25,"title":null}},
  "y2":{"field":"h"},
  "color":{"condition":{"test":"datum.c >= datum.o","value":"#ec3c3c"},"value":"#3b8beb"}
 }},
{"data":{"name":"k"},
 "mark":{"type":"bar","width":{"band":0.8}},
 "encoding":{
  "x":{"field":"d","type":"ordinal"},
  "y":{"field":"o","type":"quantitative","title":null},
  "y2":{"field":"c"},
  "color":{"condition":{"test":"datum.c >= datum.o","value":"#ec3c3c"},"value":"#3b8beb"}
 }},
{"data":{"name":"ma"},"mark":{"type":"line","color":"#f7a04c","strokeWidth":0.8,"interpolate":"monotone"},
 "encoding":{"x":{"field":"d","type":"ordinal"},"y":{"field":"m3","type":"quantitative","title":null}}},
{"data":{"name":"ma"},"mark":{"type":"line","color":"#b98ae0","strokeWidth":0.8,"interpolate":"monotone"},
 "encoding":{"x":{"field":"d","type":"ordinal"},"y":{"field":"m4","type":"quantitative","title":null}}},
{"data":{"name":"ma"},"mark":{"type":"line","color":"#f27575","strokeWidth":0.8,"interpolate":"monotone"},
 "encoding":{"x":{"field":"d","type":"ordinal"},"y":{"field":"m2","type":"quantitative","title":null}}},
{"data":{"name":"ma"},"mark":{"type":"line","color":"#7fcb6e","strokeWidth":0.8,"interpolate":"monotone"},
 "encoding":{"x":{"field":"d","type":"ordinal"},"y":{"field":"m1","type":"quantitative","title":null}}},
{"data":{"values":[{}]},"mark":{"type":"rule","color":"#8c8c8c","strokeWidth":0.6,"strokeDash":[2,1]},
 "encoding":{"x":{"datum":"2024-10-02","type":"ordinal"}}},
{"data":{"values":[{}]},"mark":{"type":"rule","color":"#b0b0b0","strokeWidth":0.6,"strokeDash":[2,2]},
 "encoding":{"y":{"datum":199.6,"type":"quantitative"}}},
{"data":{"values":[{}]},"mark":{"type":"point","filled":true,"opacity":1,"color":"#e8383b","size":36,"shape":"M1.3,0L1.95,-1H7.4V1H1.95Z"},
 "encoding":{"x":{"datum":"2025-09-12","type":"ordinal"},"y":{"datum":241.38,"type":"quantitative"}}},
{"data":{"values":[{}]},"mark":{"type":"text","color":"white","fontSize":4,"fontWeight":"bold","align":"left","baseline":"middle","dx":8.2},
 "encoding":{"x":{"datum":"2025-09-12","type":"ordinal"},"y":{"datum":241.38,"type":"quantitative"},"text":{"value":"241.38"}}},
{"data":{"values":[{}]},"mark":{"type":"point","filled":true,"opacity":1,"color":"#222222","size":36,"shape":"M1.3,0L1.95,-1H7.4V1H1.95Z"},
 "encoding":{"x":{"datum":"2025-09-12","type":"ordinal"},"y":{"datum":199.6,"type":"quantitative"}}},
{"data":{"values":[{}]},"mark":{"type":"text","color":"white","fontSize":4,"fontWeight":"bold","align":"left","baseline":"middle","dx":8.2},
 "encoding":{"x":{"datum":"2025-09-12","type":"ordinal"},"y":{"datum":199.6,"type":"quantitative"},"text":{"value":"199.60"}}},
{"data":{"values":[{}]},"mark":{"type":"text","color":"#333333","fontSize":4.3,"fontWeight":"bold","align":"left","baseline":"middle","dx":7.5},
 "encoding":{"x":{"datum":"2025-09-12","type":"ordinal"},"y":{"datum":250.0,"type":"quantitative"},"text":{"value":"Linear ∨"}}},
{"data":{"values":[{}]},"mark":{"type":"point","filled":true,"opacity":1,"color":"#222222","size":3},
 "encoding":{"x":{"datum":"2025-09-11","type":"ordinal"},"y":{"datum":242.57,"type":"quantitative"}}},
{"data":{"values":[{}]},"mark":{"type":"text","color":"#333333","fontSize":4.3,"align":"right","baseline":"middle","dx":1.5,"dy":-5.5},
 "encoding":{"x":{"datum":"2025-09-11","type":"ordinal"},"y":{"datum":242.57,"type":"quantitative"},"text":{"value":"최고 242.57 (-0.49%)"}}},
{"data":{"values":[{}]},"mark":{"type":"point","filled":true,"opacity":1,"color":"#222222","size":3},
 "encoding":{"x":{"datum":"2024-03-07","type":"ordinal"},"y":{"datum":131.55,"type":"quantitative"}}},
{"data":{"values":[{}]},"mark":{"type":"text","color":"#333333","fontSize":4.3,"align":"left","baseline":"middle","dx":-2.6,"dy":6.5},
 "encoding":{"x":{"datum":"2024-03-06","type":"ordinal"},"y":{"datum":131.55,"type":"quantitative"},"text":{"value":"최저 131.55 (+83.49%)"}}},
{"data":{"values":[{}]},"mark":{"type":"text","color":"#555555","fontSize":4.3,"align":"left","baseline":"middle","dx":1.2,"lineHeight":6},
 "encoding":{"x":{"datum":"2024-03-06","type":"ordinal"},"y":{"datum":250.93,"type":"quantitative"},"text":{"value":["MA1","MA2","MA3","MA4"]}}},
{"data":{"values":[{}]},"mark":{"type":"text","color":"#5cb85c","fontSize":4.3,"align":"left","baseline":"middle","dx":46.3},
 "encoding":{"x":{"datum":"2024-03-06","type":"ordinal"},"y":{"datum":250.93,"type":"quantitative"},"text":{"value":"166.41"}}},
{"data":{"values":[{}]},"mark":{"type":"text","color":"#ef5858","fontSize":4.3,"align":"left","baseline":"middle","dx":46.3},
 "encoding":{"x":{"datum":"2024-03-06","type":"ordinal"},"y":{"datum":248.33,"type":"quantitative"},"text":{"value":"166.30"}}},
{"data":{"values":[{}]},"mark":{"type":"text","color":"#f39a3e","fontSize":4.3,"align":"left","baseline":"middle","dx":46.3},
 "encoding":{"x":{"datum":"2024-03-06","type":"ordinal"},"y":{"datum":245.73,"type":"quantitative"},"text":{"value":"167.27"}}},
{"data":{"values":[{}]},"mark":{"type":"text","color":"#a774d8","fontSize":4.3,"align":"left","baseline":"middle","dx":46.3},
 "encoding":{"x":{"datum":"2024-03-06","type":"ordinal"},"y":{"datum":243.13,"type":"quantitative"},"text":{"value":"170.64"}}}
]
},
{
"width":748,"height":64,
"layer":[
{"data":{"name":"k"},
 "mark":{"type":"bar","width":{"band":0.8}},
 "encoding":{
  "x":{"field":"d","type":"ordinal","title":null,"scale":{"paddingInner":0,"paddingOuter":0.9},
       "axis":{"values":["2024-04-01","2024-05-01","2024-06-03","2024-07-01","2024-08-01","2024-09-03","2024-11-01","2024-12-02","2025-01-02","2025-02-03","2025-03-03","2025-04-01","2025-05-01","2025-06-02","2025-07-01","2025-08-01","2025-09-02"],
               "labelExpr":"datum.value == '2025-01-02' ? '2025' : toNumber(substring(datum.value,5,7)) + '월'",
               "labelFontWeight":{"condition":{"test":"datum.value == '2025-01-02'","value":"bold"},"value":"normal"},
               "labelFontSize":4,"labelColor":"#777777","labelPadding":0.5,"labelLineHeight":5,"ticks":false,"grid":true,"gridColor":"#f1f1f1","gridWidth":0.7,"domainColor":"#d8d8d8","domainWidth":0.8,"title":null,"minExtent":10,"maxExtent":10,"labelOverlap":false}},
  "y":{"field":"v","type":"quantitative","title":null,"scale":{"domain":[0,95.5],"nice":false},
       "axis":{"orient":"right","values":[10,20,30,40,50,60,70],"labelExpr":"format(datum.value,'.2f') + 'm'","labelFontSize":4,"labelColor":"#8a8a8a","ticks":false,"grid":false,"domainColor":"#e6e6e6","domainWidth":0.8,"labelPadding":4,"minExtent":25,"maxExtent":25,"title":null}},
  "color":{"condition":{"test":"datum.c >= datum.o","value":"#f4a1a4"},"value":"#9fc3f0"}
 }},
{"data":{"values":[{}]},"mark":{"type":"rule","color":"#8c8c8c","strokeWidth":0.6,"strokeDash":[2,1]},
 "encoding":{"x":{"datum":"2024-10-02","type":"ordinal"}}},
{"data":{"values":[{}]},"mark":{"type":"text","color":"#555555","fontSize":4.3,"align":"left","baseline":"middle","dx":1.2},
 "encoding":{"x":{"datum":"2024-03-06","type":"ordinal"},"y":{"datum":85.2,"type":"quantitative"},"text":{"value":"거래량 12,744,975"}}},
{"data":{"values":[{}]},"mark":{"type":"point","filled":true,"opacity":1,"color":"#1e1e1e","size":42,"shape":"M-4.75,0.7H4.75V2.85H-4.75Z"},
 "encoding":{"x":{"datum":"2024-10-02","type":"ordinal"},"y":{"datum":0,"type":"quantitative"}}},
{"data":{"values":[{}]},"mark":{"type":"text","color":"white","fontSize":4,"align":"center","baseline":"middle","dy":5.8},
 "encoding":{"x":{"datum":"2024-10-02","type":"ordinal"},"y":{"datum":0,"type":"quantitative"},"text":{"value":"2024-10-02"}}}
]
}
]
}
